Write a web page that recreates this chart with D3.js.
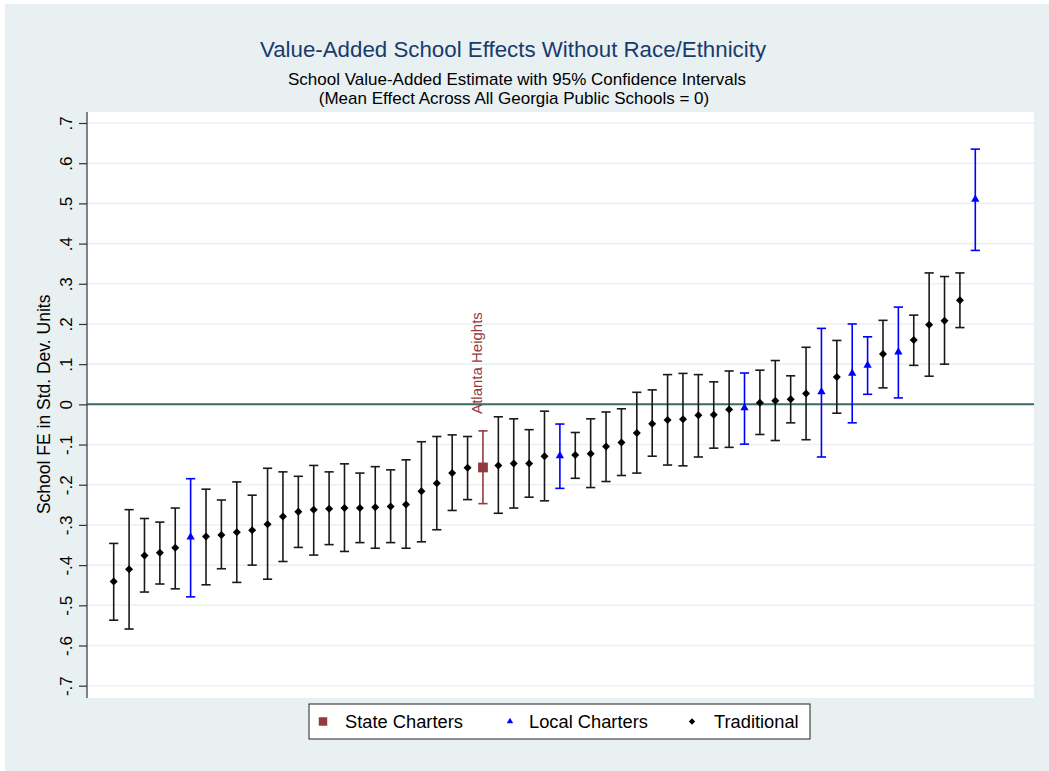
<!DOCTYPE html>
<html>
<head>
<meta charset="utf-8">
<script src="https://cdn.jsdelivr.net/npm/d3@7"></script>
<style>
  html, body { margin: 0; padding: 0; background: #ffffff; }
  svg { display: block; font-family: "Liberation Sans", Arial, sans-serif; }
</style>
</head>
<body>
<svg id="chart" width="1049" height="771"></svg>
<script>
// School value-added estimates, ordered from lowest to highest
const estimate = [-0.441,-0.410,-0.376,-0.369,-0.357,-0.330,-0.329,-0.325,-0.318,-0.313,
  -0.298,-0.279,-0.267,-0.262,-0.260,-0.258,-0.258,-0.256,-0.254,-0.249,
  -0.216,-0.196,-0.171,-0.158,-0.157,-0.152,-0.147,-0.147,-0.129,-0.128,
  -0.126,-0.123,-0.105,-0.095,-0.071,-0.048,-0.039,-0.037,-0.027,-0.026,
  -0.013,-0.009,0.004,0.009,0.013,0.027,0.031,0.068,0.077,0.097,
  0.125,0.130,0.160,0.198,0.208,0.259,0.510];

// Lower and upper bounds of the 95% confidence intervals
const ciLow = [-0.537,-0.559,-0.467,-0.447,-0.459,-0.479,-0.449,-0.409,-0.443,-0.400,
  -0.435,-0.391,-0.356,-0.375,-0.349,-0.366,-0.344,-0.358,-0.344,-0.358,
  -0.342,-0.312,-0.264,-0.237,-0.247,-0.271,-0.258,-0.231,-0.240,-0.209,
  -0.184,-0.207,-0.192,-0.177,-0.171,-0.129,-0.151,-0.153,-0.131,-0.109,
  -0.107,-0.099,-0.075,-0.090,-0.046,-0.088,-0.131,-0.022,-0.046,0.025,
  0.041,0.016,0.097,0.070,0.100,0.191,0.383];

const ciHigh = [-0.346,-0.262,-0.284,-0.293,-0.258,-0.185,-0.211,-0.238,-0.193,-0.226,
  -0.159,-0.168,-0.179,-0.152,-0.168,-0.148,-0.171,-0.155,-0.163,-0.138,
  -0.093,-0.080,-0.076,-0.080,-0.066,-0.031,-0.036,-0.063,-0.017,-0.049,
  -0.070,-0.036,-0.019,-0.011,0.030,0.036,0.074,0.077,0.074,0.056,
  0.083,0.078,0.085,0.109,0.071,0.142,0.189,0.159,0.200,0.168,
  0.209,0.242,0.222,0.327,0.318,0.327,0.635];

// School sector: S = state charter, L = local charter, T = traditional
const sector = ["T","T","T","T","T","L","T","T","T","T",
  "T","T","T","T","T","T","T","T","T","T",
  "T","T","T","T","S","T","T","T","T","L",
  "T","T","T","T","T","T","T","T","T","T",
  "T","L","T","T","T","T","L","T","L","L",
  "T","L","T","T","T","T","L"];

// Named school labelled on the chart
const labelledSchool = { index: 24, name: "Atlanta Heights" };

const sectorKeys = ["S", "L", "T"];
const sectorNames = ["State Charters", "Local Charters", "Traditional"];

const yTicks = [0.7,0.6,0.5,0.4,0.3,0.2,0.1,0,-0.1,-0.2,-0.3,-0.4,-0.5,-0.6,-0.7];
const yTickLabels = [".7",".6",".5",".4",".3",".2",".1","0","-.1","-.2","-.3","-.4","-.5","-.6","-.7"];

const titleText = "Value-Added School Effects Without Race/Ethnicity";
const subtitleLines = ["School Value-Added Estimate with 95% Confidence Intervals",
                       "(Mean Effect Across All Georgia Public Schools = 0)"];
const yTitle = "School FE in Std. Dev. Units";

// ---- layout ----
const W = 1049, H = 771;
const plot = { left: 87, top: 112, right: 1034, bottom: 698 };

const svg = d3.select("#chart");

const colour = { S: "#943a3e", L: "#0000ff", T: "#000000" };
const barColour = { S: "#943a3e", L: "#0000ff", T: "#1a1a1a" };

// graph background and plot region
svg.append("rect").attr("x", 5).attr("y", 4).attr("width", W - 5).attr("height", H - 4)
  .attr("fill", "#e8f0f2");
svg.append("rect").attr("x", plot.left).attr("y", plot.top)
  .attr("width", plot.right - plot.left).attr("height", plot.bottom - plot.top)
  .attr("fill", "#ffffff");

const rank = d3.range(1, estimate.length + 1);
const x = d3.scaleLinear().domain([1, estimate.length]).range([113.7, 975.3]);
const y = d3.scaleLinear().domain([-0.7, 0.7]).range([685.7, 123]);

// horizontal grid lines
svg.append("g").selectAll("line").data(yTicks).join("line")
  .attr("x1", plot.left).attr("x2", plot.right)
  .attr("y1", d => y(d)).attr("y2", d => y(d))
  .attr("stroke", "#eaf1f3").attr("stroke-width", 1.6);

// reference line at zero
svg.append("line")
  .attr("x1", plot.left).attr("x2", plot.right)
  .attr("y1", y(0)).attr("y2", y(0))
  .attr("stroke", "#3d6b63").attr("stroke-width", 2);

// y axis
const yAxis = d3.axisLeft(y).tickValues(yTicks)
  .tickFormat((d, i) => yTickLabels[i]).tickSize(8).tickPadding(0);
const gy = svg.append("g").attr("transform", `translate(${plot.left},0)`).call(yAxis);
gy.select(".domain").attr("d", `M0,${plot.top}V${plot.bottom}`)
  .attr("stroke", "#333").attr("stroke-width", 1.2);
gy.selectAll(".tick line").attr("stroke", "#333").attr("stroke-width", 1.2);
gy.selectAll(".tick text")
  .attr("x", null).attr("dy", null)
  .attr("transform", "translate(-15,0) rotate(-90)")
  .attr("text-anchor", "middle")
  .style("font-family", "'Liberation Sans', Arial, sans-serif")
  .style("font-size", "17px").attr("fill", "#000");

// y axis title
svg.append("text")
  .attr("transform", `translate(50,${y(0)}) rotate(-90)`)
  .attr("text-anchor", "middle")
  .style("font-size", "17.5px").attr("fill", "#000")
  .text(yTitle);

// confidence interval bars
const capHalf = 4.6;
const bars = svg.append("g").selectAll("g").data(rank).join("g")
  .attr("stroke", (d, i) => barColour[sector[i]]).attr("stroke-width", 1.6);
bars.append("line")
  .attr("x1", (d) => x(d)).attr("x2", (d) => x(d))
  .attr("y1", (d, i) => y(ciLow[i])).attr("y2", (d, i) => y(ciHigh[i]));
bars.append("line")
  .attr("x1", (d) => x(d) - capHalf).attr("x2", (d) => x(d) + capHalf)
  .attr("y1", (d, i) => y(ciLow[i])).attr("y2", (d, i) => y(ciLow[i]));
bars.append("line")
  .attr("x1", (d) => x(d) - capHalf).attr("x2", (d) => x(d) + capHalf)
  .attr("y1", (d, i) => y(ciHigh[i])).attr("y2", (d, i) => y(ciHigh[i]));

// markers
const markerPath = {
  S: d3.symbol(d3.symbolSquare, 96)(),
  L: d3.symbol(d3.symbolTriangle, 30)(),
  T: d3.symbol(d3.symbolSquare, 32)()
};
const markerRotate = { S: 0, L: 0, T: 45 };
svg.append("g").selectAll("path").data(rank).join("path")
  .attr("d", (d, i) => markerPath[sector[i]])
  .attr("transform", (d, i) => `translate(${x(d)},${y(estimate[i])}) rotate(${markerRotate[sector[i]]})`)
  .attr("fill", (d, i) => colour[sector[i]]);

// school label
const li = labelledSchool.index;
svg.append("text")
  .attr("transform", `translate(${x(li + 1) - 1},${y(ciHigh[li]) - 17}) rotate(-90)`)
  .attr("text-anchor", "start")
  .style("font-size", "15px").attr("fill", "#943a3e")
  .text(labelledSchool.name);

// titles
svg.append("text").attr("x", 513).attr("y", 57).attr("text-anchor", "middle")
  .style("font-size", "22.3px").attr("fill", "#1a3a6c").text(titleText);
svg.append("text").attr("x", 517).attr("y", 84.5).attr("text-anchor", "middle")
  .style("font-size", "17px").attr("fill", "#000").text(subtitleLines[0]);
svg.append("text").attr("x", 514).attr("y", 103.5).attr("text-anchor", "middle")
  .style("font-size", "17px").attr("fill", "#000").text(subtitleLines[1]);

// legend
const legend = svg.append("g");
legend.append("rect").attr("x", 309).attr("y", 704).attr("width", 501).attr("height", 35)
  .attr("fill", "#fff").attr("stroke", "#222").attr("stroke-width", 1);
const legendSymX = [323, 510, 692];
const legendTextX = [345, 529, 714];
const legendPath = {
  S: d3.symbol(d3.symbolSquare, 72)(),
  L: d3.symbol(d3.symbolTriangle, 18)(),
  T: d3.symbol(d3.symbolSquare, 20)()
};
sectorKeys.forEach((k, i) => {
  legend.append("path").attr("d", legendPath[k])
    .attr("transform", `translate(${legendSymX[i]},721.5) rotate(${markerRotate[k]})`)
    .attr("fill", colour[k]);
  legend.append("text").attr("x", legendTextX[i]).attr("y", 728)
    .style("font-size", "18.3px").attr("fill", "#000").text(sectorNames[i]);
});
</script>
</body>
</html>
